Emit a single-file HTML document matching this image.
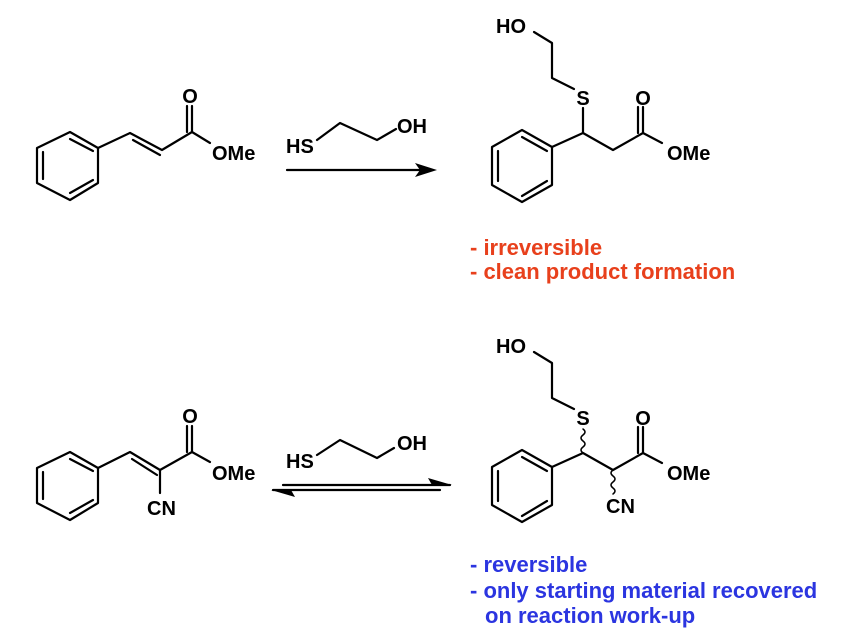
<!DOCTYPE html>
<html><head><style>
body{margin:0;background:#fff;}
svg{display:block}
text{font-family:"Liberation Sans",Arial,sans-serif;font-weight:bold;}
</style></head><body>
<svg width="847" height="638" viewBox="0 0 847 638" xmlns="http://www.w3.org/2000/svg">
<g stroke="#000" stroke-width="2.2" fill="none" stroke-linecap="round" stroke-linejoin="round">
<polygon points="70,132 98,148 98,183 70,200 37,183 37,148"/>
<line x1="43" y1="152" x2="43" y2="179"/><line x1="70" y1="193" x2="93" y2="180"/><line x1="70" y1="139" x2="93" y2="151"/>
<polyline points="98,148 130,133 162,150 192,132"/>
<line x1="133" y1="140" x2="160" y2="155"/>
<line x1="192" y1="132" x2="192" y2="106"/><line x1="187" y1="132" x2="187" y2="106"/>
<line x1="192" y1="132" x2="210" y2="143"/>
<polyline points="317,140 340,123 377,140 396,129"/>
<line x1="287" y1="170" x2="420" y2="170"/>
<polygon points="522,130 552,147 552,185 522,202 492,185 492,147"/>
<line x1="498" y1="151" x2="498" y2="181"/><line x1="522" y1="196" x2="547" y2="181"/><line x1="522" y1="137" x2="547" y2="151"/>
<polyline points="552,147 583,133 613,150 643,133 662,143"/>
<line x1="583" y1="133" x2="583" y2="108"/>
<polyline points="574,89 552,78 552,43 534,32"/>
<line x1="643" y1="133" x2="643" y2="107"/><line x1="638" y1="133" x2="638" y2="107"/>
<polygon points="70,452 98,468 98,503 70,520 37,503 37,468"/>
<line x1="43" y1="472" x2="43" y2="499"/><line x1="70" y1="513" x2="93" y2="500"/><line x1="70" y1="459" x2="93" y2="471"/>
<polyline points="98,468 130,452 160,470 192,452"/>
<line x1="132" y1="459" x2="157" y2="475"/>
<line x1="160" y1="470" x2="160" y2="493"/>
<line x1="192" y1="452" x2="192" y2="426"/><line x1="187" y1="452" x2="187" y2="426"/>
<line x1="192" y1="452" x2="210" y2="462"/>
<polyline points="317,455 340,440 377,458 394,448"/>
<line x1="283" y1="485" x2="450" y2="485"/><line x1="273" y1="490" x2="440" y2="490"/>
<polygon points="522,450 552,467 552,505 522,522 492,505 492,467"/>
<line x1="498" y1="471" x2="498" y2="501"/><line x1="522" y1="516" x2="547" y2="501"/><line x1="522" y1="457" x2="547" y2="471"/>
<polyline points="552,467 583,453 613,470 643,453 662,463"/>
<path d="M583,453 q-4,-3 0,-6 q4,-3 0,-6 q-4,-3 0,-6 q4,-3 0,-6" stroke-width="1.5"/>
<path d="M613,470 q-4,3 0,6 q4,3 0,6 q-4,3 0,6 q4,3 0,6" stroke-width="1.5"/>
<polyline points="574,409 552,398 552,363 534,352"/>
<line x1="643" y1="453" x2="643" y2="427"/><line x1="638" y1="453" x2="638" y2="427"/>
</g>
<polygon points="437,170 415,163 420,170 415,177" fill="#000"/>
<polygon points="452,485 428,478 432,485" fill="#000"/>
<polygon points="271,490 295,497 291,490" fill="#000"/>
<g font-size="20" fill="#000">
<text x="190" y="103" text-anchor="middle">O</text>
<text x="212" y="160">OMe</text>
<text x="286" y="153">HS</text>
<text x="397" y="133">OH</text>
<text x="496" y="33">HO</text>
<text x="583" y="105" text-anchor="middle">S</text>
<text x="643" y="105" text-anchor="middle">O</text>
<text x="667" y="160">OMe</text>
<text x="190" y="423" text-anchor="middle">O</text>
<text x="212" y="480">OMe</text>
<text x="147" y="515">CN</text>
<text x="286" y="468">HS</text>
<text x="397" y="450">OH</text>
<text x="496" y="353">HO</text>
<text x="583" y="425" text-anchor="middle">S</text>
<text x="643" y="425" text-anchor="middle">O</text>
<text x="667" y="480">OMe</text>
<text x="606" y="513">CN</text>
</g>
<g font-size="22" fill="#e8401c">
<text x="470" y="255">- irreversible</text>
<text x="470" y="279">- clean product formation</text>
</g>
<g font-size="22" fill="#2b35e0">
<text x="470" y="572">- reversible</text>
<text x="470" y="598">- only starting material recovered</text>
<text x="485" y="623">on reaction work-up</text>
</g>
</svg>
</body></html>
